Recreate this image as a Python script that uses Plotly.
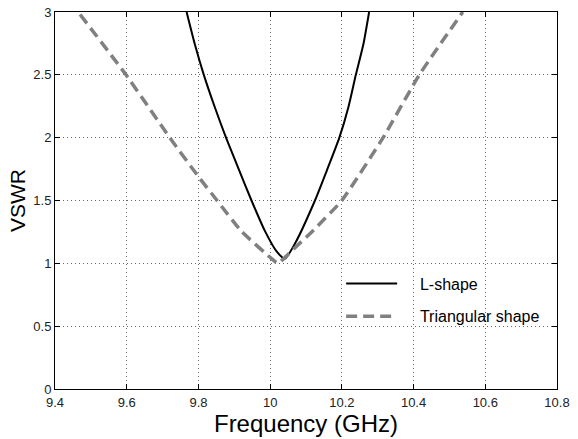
import plotly.graph_objects as go

# L-shape VSWR curve
l_freq = [9.767, 9.790, 9.815, 9.846, 9.877, 9.914, 9.948, 9.986, 10.018, 10.041,
          10.069, 10.125, 10.158, 10.193, 10.218, 10.239, 10.26, 10.276]
l_vswr = [3.0, 2.743, 2.5, 2.24, 2.0, 1.738, 1.5, 1.254, 1.095, 1.037,
          1.156, 1.5, 1.738, 2.0, 2.24, 2.5, 2.743, 3.0]

# Triangular shape VSWR curve
t_freq = [9.47, 9.598, 9.72, 9.80, 9.852, 9.92, 10.003, 10.022,
          10.06, 10.116, 10.2, 10.315, 10.416, 10.537]
t_vswr = [2.98, 2.5, 2.0, 1.69, 1.5, 1.254, 1.04, 1.0,
          1.1, 1.25, 1.5, 2.0, 2.5, 3.0]

x_ticks = [9.4, 9.6, 9.8, 10, 10.2, 10.4, 10.6, 10.8]
x_labels = ["9.4", "9.6", "9.8", "10", "10.2", "10.4", "10.6", "10.8"]
y_ticks = [0, 0.5, 1, 1.5, 2, 2.5, 3]
y_labels = ["0", "0.5", "1", "1.5", "2", "2.5", "3"]

FONT = "Liberation Sans, Arial, sans-serif"
NB = "\u00a0" * 4

fig = go.Figure()
fig.add_trace(go.Scatter(x=l_freq, y=l_vswr, mode="lines", name=NB + "L-shape",
                         legendgroup="a",
                         line=dict(color="black", width=2, shape="spline", smoothing=0.6)))
fig.add_trace(go.Scatter(x=t_freq, y=t_vswr, mode="lines", name=NB + "Triangular shape",
                         legendgroup="b",
                         line=dict(color="#808080", width=3.5, dash="11px,6px",
                                   shape="spline", smoothing=0.4)))

axis_common = dict(
    showline=True, linecolor="black", linewidth=1, mirror="ticks",
    ticks="inside", ticklen=5, tickcolor="black",
    showgrid=True, gridcolor="#666666", griddash="1px,3px", gridwidth=1,
    zeroline=False, automargin=False,
    tickfont=dict(family=FONT, size=13, color="#222222"),
)

fig.update_xaxes(range=[9.4, 10.8], tickvals=x_ticks, ticktext=x_labels,
                 ticklabelstandoff=1,
                 title=dict(text="Frequency (GHz)", font=dict(family=FONT, size=24, color="black"),
                            standoff=0),
                 **axis_common)
fig.update_yaxes(range=[0, 3], tickvals=y_ticks, ticktext=y_labels,
                 title=dict(text="VSWR", font=dict(family=FONT, size=21, color="black"),
                            standoff=1),
                 **axis_common)

fig.update_layout(
    width=578, height=439,
    margin=dict(l=55, r=21, t=12, b=50),
    paper_bgcolor="white", plot_bgcolor="white",
    font=dict(family=FONT, color="black"),
    legend=dict(x=0.57, y=0.325, xanchor="left", yanchor="top",
                bgcolor="rgba(0,0,0,0)", borderwidth=0,
                font=dict(family=FONT, size=16, color="black"),
                itemwidth=51, tracegroupgap=9),
)

fig.write_html("out.html", config={"displayModeBar": False},
               post_script="document.body.style.margin='0px';document.body.style.overflow='hidden';")
